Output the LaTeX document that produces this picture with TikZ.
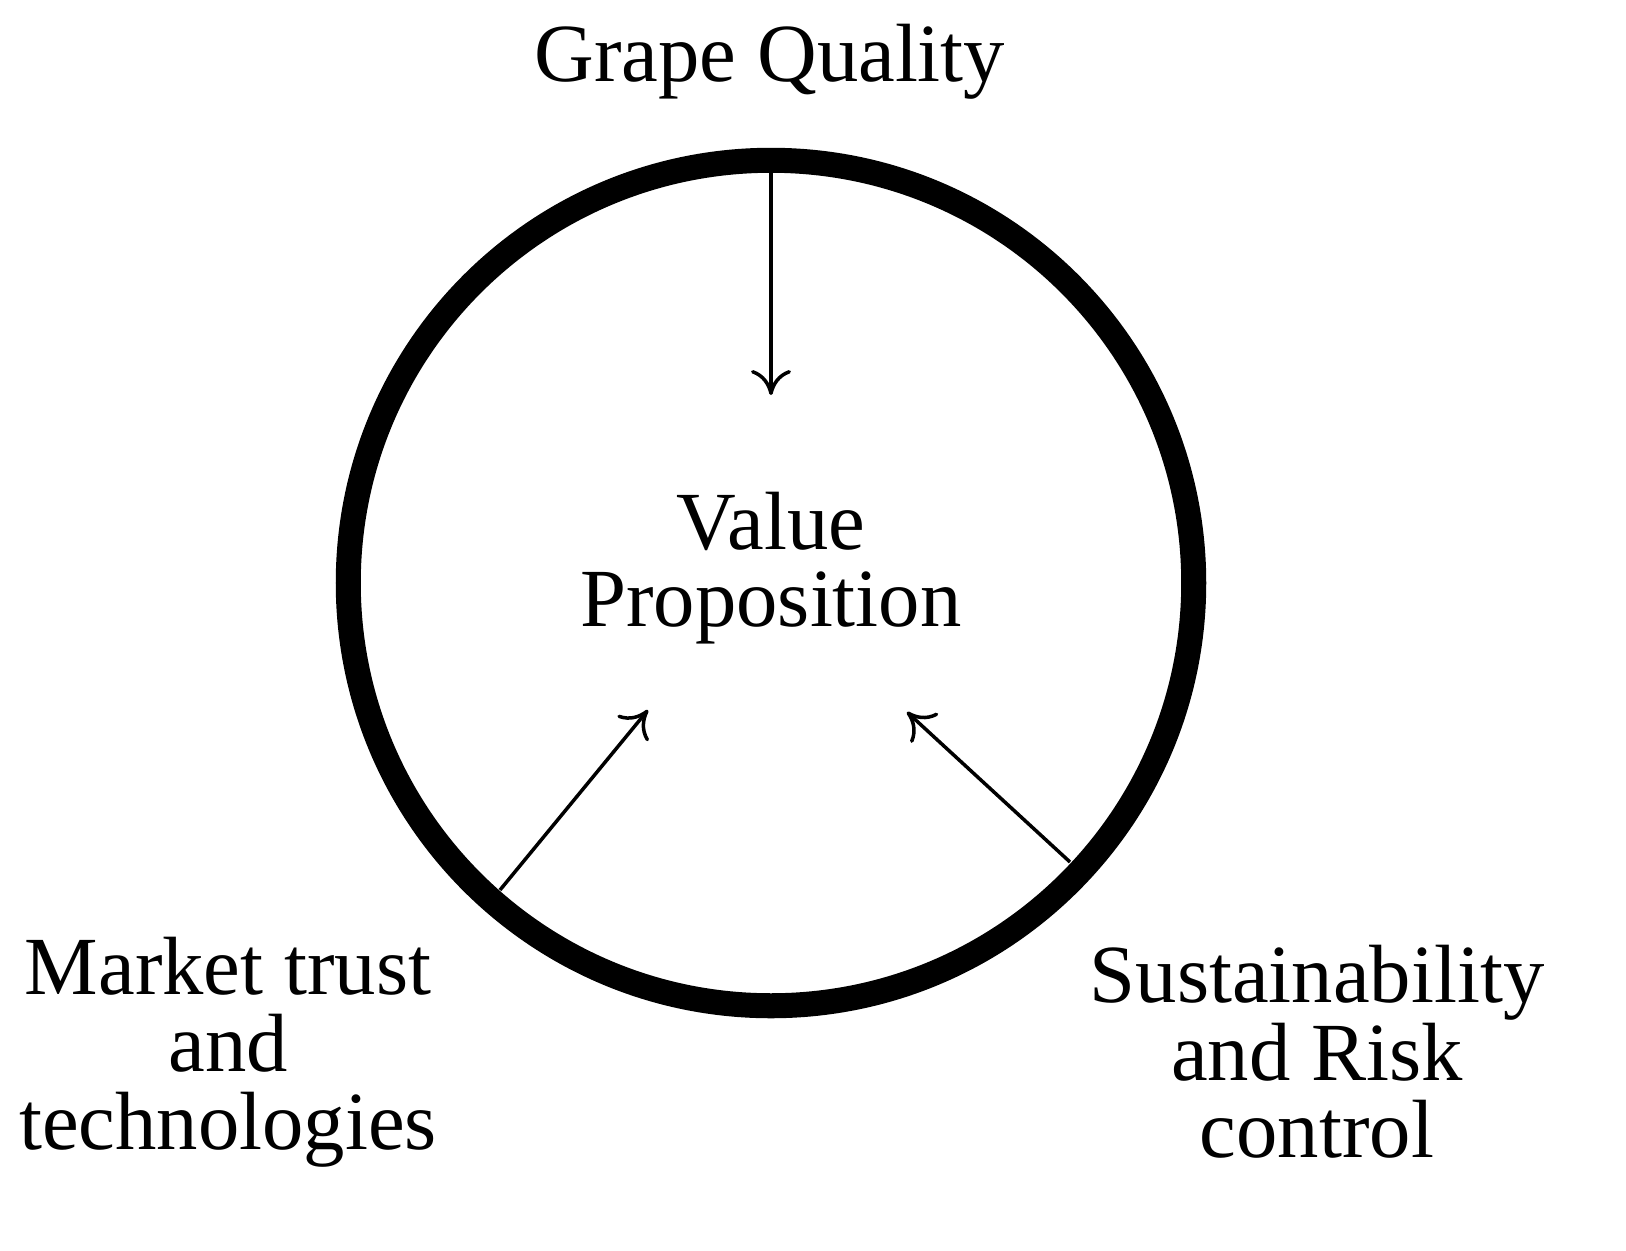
\documentclass[tikz,border=0pt]{standalone}
\usepackage{fontspec}
\setmainfont{Liberation Serif}
\usetikzlibrary{arrows.meta}
\begin{document}
\begin{tikzpicture}[x=0.01cm,y=-0.01cm,
  lbl/.style={align=center,font=\fontsize{23.5}{22}\selectfont,inner sep=0pt},
  arr/.style={line width=0.035cm,-{To[length=0.25cm,width=0.4cm]}}]
\useasboundingbox (0,0) rectangle (1626,1250);
\node[circle,draw,line width=0.25cm,minimum size=8.45cm,inner sep=0pt] (c) at (771,583) {};
\node[lbl] (gq) at (770,62) {Grape Quality};
\node[lbl] (vp) at (771,568) {Value\\Proposition};
\node[lbl] (mt) at (228,1052) {Market trust\\and\\technologies};
\node[lbl] (sr) at (1317,1052) {Sustainability\\and Risk\\control};
\coordinate (a1) at (771,162); \coordinate (b1) at (771,395);
\coordinate (a2) at (500,890); \coordinate (b2) at (648,710);
\coordinate (a3) at (1070,862); \coordinate (b3) at (907,712);
\draw[arr] (a1) -- (b1);
\draw[arr] (a2) -- (b2);
\draw[arr] (a3) -- (b3);
\end{tikzpicture}
\end{document}
